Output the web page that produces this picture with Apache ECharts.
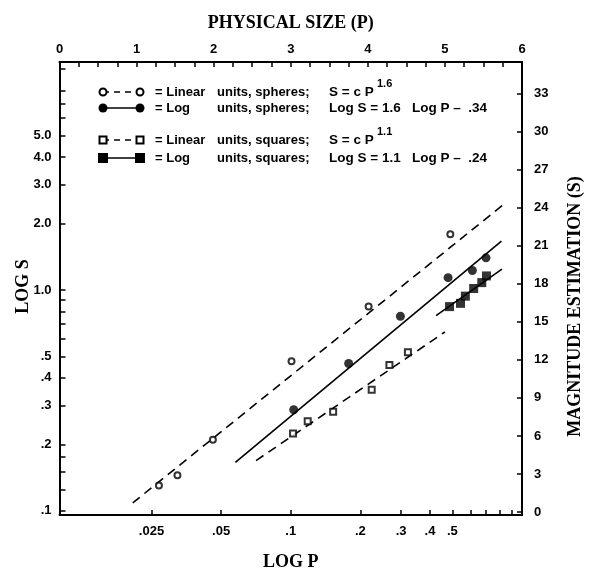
<!DOCTYPE html>
<html><head><meta charset="utf-8">
<script src="https://cdn.jsdelivr.net/npm/echarts@6/dist/echarts.min.js"></script>
<style>html,body{margin:0;padding:0;background:#fff}#c{width:592px;height:576px}</style>
</head><body><div id="c"></div>
<script>
// ---------------- data ----------------
// tick labels
const sizeTickValues = [0, 1, 2, 3, 4, 5, 6];
const sizeMinorTicks = [0.25, 0.5, 0.75, 1.25, 1.5, 1.75, 2.25, 2.5, 2.75, 3.25, 3.5, 3.75, 4.25, 4.5, 4.75, 5.25, 5.5, 5.75];
const magTickValues = [0, 3, 6, 9, 12, 15, 18, 21, 24, 27, 30, 33];
const logPTickValues = [0.025, 0.05, 0.1, 0.2, 0.3, 0.4, 0.5];
const logPMinorTicks = [0.6, 0.7, 0.8, 0.9];
const logSTickValues = [0.1, 0.2, 0.3, 0.4, 0.5, 1, 2, 3, 4, 5];
const logSMinorTicks = [0.125, 0.15, 0.175, 0.6, 0.7, 0.8, 0.9, 6, 7, 8, 10];

// Linear units (top axis P, right axis S)
const sphereLinP = [1.29, 1.53, 1.99, 3.01, 4.01, 5.07];
const sphereLinS = [2.1, 2.9, 5.7, 11.9, 16.2, 21.9];
const squareLinP = [3.03, 3.22, 3.55, 4.05, 4.28, 4.52];
const squareLinS = [6.2, 7.15, 7.9, 9.65, 11.6, 12.6];
const sphereLinFitP = [0.95, 5.75];
const sphereLinFitS = [0.72, 24.2];
const squareLinFitP = [2.55, 5.0];
const squareLinFitS = [4.06, 14.2];

// Log units (bottom axis log P, left axis log S)
const sphereLogP = [0.103, 0.178, 0.298, 0.479, 0.610, 0.699];
const sphereLogS = [0.287, 0.465, 0.761, 1.137, 1.226, 1.398];
const squareLogP = [0.486, 0.542, 0.569, 0.618, 0.670, 0.702];
const squareLogS = [0.841, 0.870, 0.938, 1.016, 1.080, 1.158];
const sphereLogFitP = [0.0576, 0.815];
const sphereLogFitS = [0.166, 1.666];
const squareLogFitP = [0.425, 0.819];
const squareLogFitS = [0.766, 1.244];

// ---------------- chart ----------------
const pairs = (xs, ys) => xs.map((x, i) => [x, ys[i]]);
const LBL = 'bold 13px "Liberation Sans", Arial, sans-serif';
const FORM = 'bold 13.5px "Liberation Sans", Arial, sans-serif';
const TITLE = { fontFamily: '"Liberation Serif", "Times New Roman", serif', fontWeight: 'bold', fontSize: 18, color: '#000' };
const axisLine = { show: true, onZero: false, lineStyle: { color: '#000', width: 2 } };
const lblStyle = { color: '#000', fontFamily: '"Liberation Sans", Arial, sans-serif', fontWeight: 'bold', fontSize: 13 };

function fmtLog(v) {
  const r = +(+v).toPrecision(3);
  if (r >= 1) return r.toFixed(1);
  return String(r).replace(/^0/, '');
}

const chart = echarts.init(document.getElementById('c'), null, { renderer: 'canvas' });

const dashed = { color: '#000', width: 1.6, type: [9, 6] };
const solid = { color: '#000', width: 1.6, type: 'solid' };

const legendRows = [
  { y: 92, kind: 'openCircle', dash: true, a: '= Linear', b: 'units, spheres;', f: 'S = c P', sup: '1.6' },
  { y: 108, kind: 'filledCircle', dash: false, a: '= Log', b: 'units, spheres;', f: 'Log S = 1.6   Log P \u2013  .34' },
  { y: 140, kind: 'openSquare', dash: true, a: '= Linear', b: 'units, squares;', f: 'S = c P', sup: '1.1' },
  { y: 158, kind: 'filledSquare', dash: false, a: '= Log', b: 'units, squares;', f: 'Log S = 1.1   Log P \u2013  .24' }
];
const gfx = [];
legendRows.forEach(r => {
  gfx.push({ type: 'line', shape: { x1: 103, y1: r.y, x2: 140, y2: r.y },
    style: { stroke: '#000', lineWidth: 1.6, lineDash: r.dash ? [6, 5] : null } });
  [103, 140].forEach(cx => {
    if (r.kind === 'openCircle') gfx.push({ type: 'circle', shape: { cx, cy: r.y, r: 3.5 }, style: { fill: '#fff', stroke: '#000', lineWidth: 2 } });
    if (r.kind === 'filledCircle') gfx.push({ type: 'circle', shape: { cx, cy: r.y, r: 4.5 }, style: { fill: '#000' } });
    if (r.kind === 'openSquare') gfx.push({ type: 'rect', shape: { x: cx - 3.5, y: r.y - 3.5, width: 7, height: 7 }, style: { fill: '#fff', stroke: '#000', lineWidth: 2 } });
    if (r.kind === 'filledSquare') gfx.push({ type: 'rect', shape: { x: cx - 5, y: r.y - 5, width: 10, height: 10 }, style: { fill: '#000' } });
  });
  const t = (x, text, font) => gfx.push({ type: 'text', x, y: r.y,
    style: { text, font: font || LBL, fill: '#000', textVerticalAlign: 'middle', verticalAlign: 'middle' } });
  t(155, r.a);
  t(217, r.b);
  t(329, r.f, FORM);
  if (r.sup) gfx.push({ type: 'text', x: 377, y: r.y - 8,
    style: { text: r.sup, font: 'bold 11px "Liberation Sans", Arial, sans-serif', fill: '#000', textVerticalAlign: 'middle', verticalAlign: 'middle' } });
});

const option = {
  animation: false,
  backgroundColor: '#fff',
  grid: { left: 59.5, right: 64, top: 62, bottom: 56, containLabel: false, show: false },
  xAxis: [
    { type: 'log', logBase: 10, position: 'bottom', min: 0.01, max: 1,
      name: 'LOG P', nameLocation: 'middle', nameGap: 38, nameMoveOverlap: false, nameTextStyle: TITLE,
      axisLine, splitLine: { show: false },
      axisTick: { show: true, inside: true, length: 5, lineStyle: { color: '#000', width: 1.5 },
        customValues: logPTickValues.concat(logPMinorTicks) },
      axisLabel: { ...lblStyle, margin: 10, customValues: logPTickValues, formatter: fmtLog } },
    { type: 'value', position: 'top', min: 0, max: 6,
      name: 'PHYSICAL SIZE (P)', nameLocation: 'middle', nameGap: 30, nameMoveOverlap: false, nameTextStyle: TITLE,
      axisLine, splitLine: { show: false },
      axisTick: { show: true, inside: true, length: 5, lineStyle: { color: '#000', width: 1.5 },
        customValues: sizeTickValues.concat(sizeMinorTicks) },
      axisLabel: { ...lblStyle, margin: 6, customValues: sizeTickValues, formatter: v => String(Math.round(v)) } }
  ],
  yAxis: [
    { type: 'log', logBase: 10, position: 'left', min: 0.0958, max: 10.77,
      name: 'LOG S', nameLocation: 'middle', nameGap: 27, nameRotate: 90, nameMoveOverlap: false,
      nameTextStyle: { ...TITLE, padding: [0, 0, 0, 4] },
      axisLine, splitLine: { show: false },
      axisTick: { show: true, inside: true, length: 6, lineStyle: { color: '#000', width: 1.5 },
        customValues: logSTickValues.concat(logSMinorTicks) },
      axisLabel: { ...lblStyle, margin: 8, customValues: logSTickValues, formatter: fmtLog } },
    { type: 'value', position: 'right', min: -0.234, max: 35.49,
      name: 'MAGNITUDE ESTIMATION (S)', nameLocation: 'middle', nameGap: 44, nameRotate: 90, nameMoveOverlap: false,
      nameTextStyle: { ...TITLE, padding: [0, 36, 0, 0] },
      axisLine, splitLine: { show: false },
      axisTick: { show: true, inside: true, length: 5, lineStyle: { color: '#000', width: 1.5 },
        customValues: magTickValues },
      axisLabel: { ...lblStyle, margin: 12, customValues: magTickValues, formatter: v => String(Math.round(v)) } }
  ],
  graphic: gfx,
  series: [
    { name: 'Linear units, spheres (fit)', type: 'line', xAxisIndex: 1, yAxisIndex: 1, symbol: 'none',
      data: pairs(sphereLinFitP, sphereLinFitS), lineStyle: dashed, z: 2 },
    { name: 'Linear units, squares (fit)', type: 'line', xAxisIndex: 1, yAxisIndex: 1, symbol: 'none',
      data: pairs(squareLinFitP, squareLinFitS), lineStyle: dashed, z: 2 },
    { name: 'Log units, spheres (fit)', type: 'line', xAxisIndex: 0, yAxisIndex: 0, symbol: 'none',
      data: pairs(sphereLogFitP, sphereLogFitS), lineStyle: solid, z: 2 },
    { name: 'Log units, squares (fit)', type: 'line', xAxisIndex: 0, yAxisIndex: 0, symbol: 'none',
      data: pairs(squareLogFitP, squareLogFitS), lineStyle: solid, z: 2 },
    { name: 'Linear units, spheres', type: 'scatter', xAxisIndex: 1, yAxisIndex: 1, symbol: 'circle', symbolSize: 6,
      data: pairs(sphereLinP, sphereLinS), itemStyle: { color: '#fff', borderColor: '#000', borderWidth: 2 }, z: 3 },
    { name: 'Linear units, squares', type: 'scatter', xAxisIndex: 1, yAxisIndex: 1, symbol: 'rect', symbolSize: 6,
      data: pairs(squareLinP, squareLinS), itemStyle: { color: '#fff', borderColor: '#000', borderWidth: 2 }, z: 3 },
    { name: 'Log units, spheres', type: 'scatter', xAxisIndex: 0, yAxisIndex: 0, symbol: 'circle', symbolSize: 9,
      data: pairs(sphereLogP, sphereLogS), itemStyle: { color: '#000' }, z: 3 },
    { name: 'Log units, squares', type: 'scatter', xAxisIndex: 0, yAxisIndex: 0, symbol: 'rect', symbolSize: 9,
      data: pairs(squareLogP, squareLogS), itemStyle: { color: '#000' }, z: 3 }
  ]
};
chart.setOption(option);
</script></body></html>
